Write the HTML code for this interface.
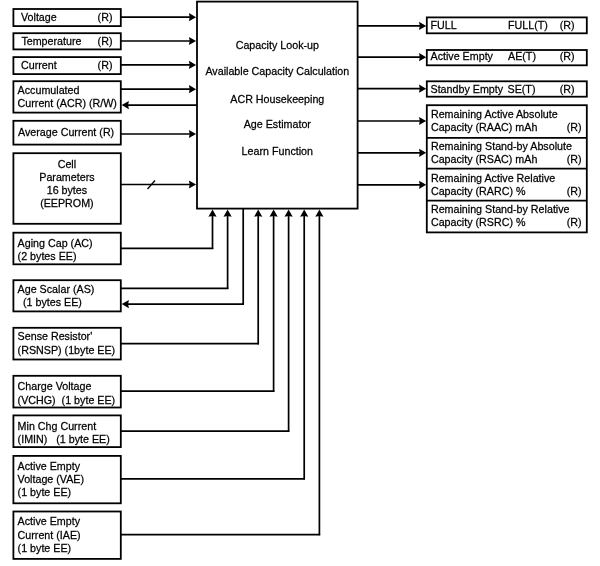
<!DOCTYPE html>
<html><head><meta charset="utf-8"><style>
html,body{margin:0;padding:0;background:#fff;width:600px;height:566px;overflow:hidden}
svg{display:block;will-change:transform}
text{font-family:"Liberation Sans",sans-serif;font-size:11.4px;fill:#000;stroke:#000;stroke-width:0.25px}
</style></head><body>
<svg width="600" height="566" viewBox="0 0 600 566">
<rect x="0" y="0" width="600" height="566" fill="#fff"/>
<rect x="13.4" y="9.0" width="107.4" height="17.1" fill="none" stroke="#000" stroke-width="1.8"/>
<rect x="13.4" y="33.2" width="107.4" height="16.2" fill="none" stroke="#000" stroke-width="1.8"/>
<rect x="13.4" y="57.1" width="107.4" height="17.0" fill="none" stroke="#000" stroke-width="1.8"/>
<rect x="13.4" y="81.2" width="107.4" height="31.4" fill="none" stroke="#000" stroke-width="1.8"/>
<rect x="13.4" y="120.8" width="107.4" height="23.8" fill="none" stroke="#000" stroke-width="1.8"/>
<rect x="13.4" y="153.2" width="107.4" height="70.6" fill="none" stroke="#000" stroke-width="1.8"/>
<rect x="13.4" y="232.7" width="107.4" height="31.6" fill="none" stroke="#000" stroke-width="1.8"/>
<rect x="13.4" y="280.2" width="107.4" height="31.2" fill="none" stroke="#000" stroke-width="1.8"/>
<rect x="13.4" y="327.8" width="107.4" height="31.7" fill="none" stroke="#000" stroke-width="1.8"/>
<rect x="13.4" y="375.8" width="107.4" height="31.7" fill="none" stroke="#000" stroke-width="1.8"/>
<rect x="13.4" y="415.4" width="107.4" height="31.7" fill="none" stroke="#000" stroke-width="1.8"/>
<rect x="13.4" y="455.9" width="107.4" height="47.4" fill="none" stroke="#000" stroke-width="1.8"/>
<rect x="13.4" y="511.5" width="107.4" height="47.4" fill="none" stroke="#000" stroke-width="1.8"/>
<rect x="197.0" y="1.6" width="160.6" height="207.0" fill="none" stroke="#000" stroke-width="1.8"/>
<line x1="120.8" y1="17.2" x2="192.0" y2="17.2" stroke="#000" stroke-width="1.7"/>
<path d="M196.1,17.2 L188.9,13.1 L189.70000000000002,17.2 L188.9,21.299999999999997 Z" fill="#000"/>
<line x1="120.8" y1="41.0" x2="192.0" y2="41.0" stroke="#000" stroke-width="1.7"/>
<path d="M196.1,41.0 L188.9,36.9 L189.70000000000002,41.0 L188.9,45.1 Z" fill="#000"/>
<line x1="120.8" y1="64.9" x2="192.0" y2="64.9" stroke="#000" stroke-width="1.7"/>
<path d="M196.1,64.9 L188.9,60.800000000000004 L189.70000000000002,64.9 L188.9,69.0 Z" fill="#000"/>
<line x1="120.8" y1="89.2" x2="192.0" y2="89.2" stroke="#000" stroke-width="1.7"/>
<path d="M196.1,89.2 L188.9,85.10000000000001 L189.70000000000002,89.2 L188.9,93.3 Z" fill="#000"/>
<line x1="120.8" y1="134.0" x2="192.0" y2="134.0" stroke="#000" stroke-width="1.7"/>
<path d="M196.1,134.0 L188.9,129.9 L189.70000000000002,134.0 L188.9,138.1 Z" fill="#000"/>
<line x1="120.8" y1="184.5" x2="192.0" y2="184.5" stroke="#000" stroke-width="1.7"/>
<path d="M196.1,184.5 L188.9,180.4 L189.70000000000002,184.5 L188.9,188.6 Z" fill="#000"/>
<line x1="125.8" y1="105.1" x2="197.0" y2="105.1" stroke="#000" stroke-width="1.7"/>
<path d="M121.7,105.1 L128.9,101.0 L128.1,105.1 L128.9,109.19999999999999 Z" fill="#000"/>
<line x1="147.5" y1="189" x2="155" y2="180.5" stroke="#000" stroke-width="1.3"/>
<line x1="212.5" y1="213.6" x2="212.5" y2="249.05" stroke="#000" stroke-width="1.7"/>
<line x1="120.8" y1="248.3" x2="213.25" y2="248.3" stroke="#000" stroke-width="1.7"/>
<path d="M212.5,209.5 L208.4,216.7 L212.5,215.89999999999998 L216.6,216.7 Z" fill="#000"/>
<line x1="227.6" y1="213.6" x2="227.6" y2="289.05" stroke="#000" stroke-width="1.7"/>
<line x1="120.8" y1="288.3" x2="228.35" y2="288.3" stroke="#000" stroke-width="1.7"/>
<path d="M227.6,209.5 L223.5,216.7 L227.6,215.89999999999998 L231.7,216.7 Z" fill="#000"/>
<line x1="243.2" y1="208.6" x2="243.2" y2="304.85" stroke="#000" stroke-width="1.7"/>
<line x1="125.8" y1="304.1" x2="243.95" y2="304.1" stroke="#000" stroke-width="1.7"/>
<path d="M121.7,304.1 L128.9,300.0 L128.1,304.1 L128.9,308.20000000000005 Z" fill="#000"/>
<line x1="258.2" y1="213.6" x2="258.2" y2="344.45" stroke="#000" stroke-width="1.7"/>
<line x1="120.8" y1="343.7" x2="258.95" y2="343.7" stroke="#000" stroke-width="1.7"/>
<path d="M258.2,209.5 L254.1,216.7 L258.2,215.89999999999998 L262.3,216.7 Z" fill="#000"/>
<line x1="273.6" y1="213.6" x2="273.6" y2="391.95" stroke="#000" stroke-width="1.7"/>
<line x1="120.8" y1="391.2" x2="274.35" y2="391.2" stroke="#000" stroke-width="1.7"/>
<path d="M273.6,209.5 L269.5,216.7 L273.6,215.89999999999998 L277.70000000000005,216.7 Z" fill="#000"/>
<line x1="288.6" y1="213.6" x2="288.6" y2="431.85" stroke="#000" stroke-width="1.7"/>
<line x1="120.8" y1="431.1" x2="289.35" y2="431.1" stroke="#000" stroke-width="1.7"/>
<path d="M288.6,209.5 L284.5,216.7 L288.6,215.89999999999998 L292.70000000000005,216.7 Z" fill="#000"/>
<line x1="304.2" y1="213.6" x2="304.2" y2="479.55" stroke="#000" stroke-width="1.7"/>
<line x1="120.8" y1="478.8" x2="304.95" y2="478.8" stroke="#000" stroke-width="1.7"/>
<path d="M304.2,209.5 L300.09999999999997,216.7 L304.2,215.89999999999998 L308.3,216.7 Z" fill="#000"/>
<line x1="319.4" y1="213.6" x2="319.4" y2="535.35" stroke="#000" stroke-width="1.7"/>
<line x1="120.8" y1="534.6" x2="320.15" y2="534.6" stroke="#000" stroke-width="1.7"/>
<path d="M319.4,209.5 L315.29999999999995,216.7 L319.4,215.89999999999998 L323.5,216.7 Z" fill="#000"/>
<rect x="426.8" y="17.4" width="160.0" height="15.9" fill="none" stroke="#000" stroke-width="1.8"/>
<rect x="426.8" y="50.0" width="160.0" height="15.3" fill="none" stroke="#000" stroke-width="1.8"/>
<rect x="426.8" y="81.3" width="160.0" height="15.4" fill="none" stroke="#000" stroke-width="1.8"/>
<rect x="426.8" y="105.2" width="160.0" height="127.2" fill="none" stroke="#000" stroke-width="1.8"/>
<line x1="426.8" y1="137.9" x2="586.8" y2="137.9" stroke="#000" stroke-width="1.8"/>
<line x1="426.8" y1="168.7" x2="586.8" y2="168.7" stroke="#000" stroke-width="1.8"/>
<line x1="426.8" y1="200.6" x2="586.8" y2="200.6" stroke="#000" stroke-width="1.8"/>
<line x1="357.6" y1="25.9" x2="421.8" y2="25.9" stroke="#000" stroke-width="1.7"/>
<path d="M426.2,25.9 L419.0,21.799999999999997 L419.8,25.9 L419.0,30.0 Z" fill="#000"/>
<line x1="357.6" y1="57.2" x2="421.8" y2="57.2" stroke="#000" stroke-width="1.7"/>
<path d="M426.2,57.2 L419.0,53.1 L419.8,57.2 L419.0,61.300000000000004 Z" fill="#000"/>
<line x1="357.6" y1="88.7" x2="421.8" y2="88.7" stroke="#000" stroke-width="1.7"/>
<path d="M426.2,88.7 L419.0,84.60000000000001 L419.8,88.7 L419.0,92.8 Z" fill="#000"/>
<line x1="357.6" y1="121.0" x2="421.8" y2="121.0" stroke="#000" stroke-width="1.7"/>
<path d="M426.2,121.0 L419.0,116.9 L419.8,121.0 L419.0,125.1 Z" fill="#000"/>
<line x1="357.6" y1="152.8" x2="421.8" y2="152.8" stroke="#000" stroke-width="1.7"/>
<path d="M426.2,152.8 L419.0,148.70000000000002 L419.8,152.8 L419.0,156.9 Z" fill="#000"/>
<line x1="357.6" y1="184.8" x2="421.8" y2="184.8" stroke="#000" stroke-width="1.7"/>
<path d="M426.2,184.8 L419.0,180.70000000000002 L419.8,184.8 L419.0,188.9 Z" fill="#000"/>
<text transform="translate(21 20.7) scale(0.9407 1)" xml:space="preserve">Voltage</text>
<text transform="translate(97.6 20.7) scale(0.9407 1)" xml:space="preserve">(R)</text>
<text transform="translate(21.4 44.9) scale(0.9407 1)" xml:space="preserve">Temperature</text>
<text transform="translate(97.6 44.9) scale(0.9407 1)" xml:space="preserve">(R)</text>
<text transform="translate(21 68.9) scale(0.9407 1)" xml:space="preserve">Current</text>
<text transform="translate(97.6 68.9) scale(0.9407 1)" xml:space="preserve">(R)</text>
<text transform="translate(17.6 93.6) scale(0.9407 1)" xml:space="preserve">Accumulated</text>
<text transform="translate(17.6 107) scale(0.9407 1)" xml:space="preserve">Current (ACR) (R/W)</text>
<text transform="translate(18 136.4) scale(0.9407 1)" xml:space="preserve">Average Current (R)</text>
<text transform="translate(66.9 167.5) scale(0.9407 1)" text-anchor="middle" xml:space="preserve">Cell</text>
<text transform="translate(66.9 180.8) scale(0.9407 1)" text-anchor="middle" xml:space="preserve">Parameters</text>
<text transform="translate(66.9 193.8) scale(0.9407 1)" text-anchor="middle" xml:space="preserve">16 bytes</text>
<text transform="translate(66.9 207.4) scale(0.9407 1)" text-anchor="middle" xml:space="preserve">(EEPROM)</text>
<text transform="translate(17.6 247) scale(0.9407 1)" xml:space="preserve">Aging Cap (AC)</text>
<text transform="translate(17.6 260) scale(0.9407 1)" xml:space="preserve">(2 bytes EE)</text>
<text transform="translate(17.6 293) scale(0.9407 1)" xml:space="preserve">Age Scalar (AS)</text>
<text transform="translate(23 306) scale(0.9407 1)" xml:space="preserve">(1 bytes EE)</text>
<text transform="translate(17.6 340.4) scale(0.9407 1)" xml:space="preserve">Sense Resistor'</text>
<text transform="translate(17.6 354) scale(0.9407 1)" xml:space="preserve">(RSNSP) (1byte EE)</text>
<text transform="translate(17.6 390) scale(0.9407 1)" xml:space="preserve">Charge Voltage</text>
<text transform="translate(17.6 403.6) scale(0.9407 1)" xml:space="preserve">(VCHG)  (1 byte EE)</text>
<text transform="translate(17.6 430) scale(0.9407 1)" xml:space="preserve">Min Chg Current</text>
<text transform="translate(17.6 442.5) scale(0.9407 1)" xml:space="preserve">(IMIN)   (1 byte EE)</text>
<text transform="translate(17.6 470.3) scale(0.9407 1)" xml:space="preserve">Active Empty</text>
<text transform="translate(17.6 483) scale(0.9407 1)" xml:space="preserve">Voltage (VAE)</text>
<text transform="translate(17.6 495.6) scale(0.9407 1)" xml:space="preserve">(1 byte EE)</text>
<text transform="translate(17.6 525.4) scale(0.9407 1)" xml:space="preserve">Active Empty</text>
<text transform="translate(17.6 538.6) scale(0.9407 1)" xml:space="preserve">Current (IAE)</text>
<text transform="translate(17.6 551.6) scale(0.9407 1)" xml:space="preserve">(1 byte EE)</text>
<text transform="translate(277.3 48.9) scale(0.9407 1)" text-anchor="middle" xml:space="preserve">Capacity Look-up</text>
<text transform="translate(277.3 75.4) scale(0.9407 1)" text-anchor="middle" xml:space="preserve">Available Capacity Calculation</text>
<text transform="translate(277.3 102.7) scale(0.9407 1)" text-anchor="middle" xml:space="preserve">ACR Housekeeping</text>
<text transform="translate(277.3 128.1) scale(0.9407 1)" text-anchor="middle" xml:space="preserve">Age Estimator</text>
<text transform="translate(277.3 154.6) scale(0.9407 1)" text-anchor="middle" xml:space="preserve">Learn Function</text>
<text transform="translate(430.5 28.7) scale(0.9407 1)" xml:space="preserve">FULL</text>
<text transform="translate(508 28.7) scale(0.9407 1)" xml:space="preserve">FULL(T)</text>
<text transform="translate(559.7 28.7) scale(0.9407 1)" xml:space="preserve">(R)</text>
<text transform="translate(430.5 60.3) scale(0.9407 1)" xml:space="preserve">Active Empty</text>
<text transform="translate(508 60.3) scale(0.9407 1)" xml:space="preserve">AE(T)</text>
<text transform="translate(559.7 60.3) scale(0.9407 1)" xml:space="preserve">(R)</text>
<text transform="translate(430.5 92.5) scale(0.9407 1)" xml:space="preserve">Standby Empty</text>
<text transform="translate(507.5 92.5) scale(0.9407 1)" xml:space="preserve">SE(T)</text>
<text transform="translate(559.7 92.5) scale(0.9407 1)" xml:space="preserve">(R)</text>
<text transform="translate(430.9 118) scale(0.9407 1)" xml:space="preserve">Remaining Active Absolute</text>
<text transform="translate(430.9 130.8) scale(0.9407 1)" xml:space="preserve">Capacity (RAAC) mAh</text>
<text transform="translate(566.8 130.8) scale(0.9407 1)" xml:space="preserve">(R)</text>
<text transform="translate(430.9 150) scale(0.9407 1)" xml:space="preserve">Remaining Stand-by Absolute</text>
<text transform="translate(430.9 162.8) scale(0.9407 1)" xml:space="preserve">Capacity (RSAC) mAh</text>
<text transform="translate(566.8 162.8) scale(0.9407 1)" xml:space="preserve">(R)</text>
<text transform="translate(430.9 181.9) scale(0.9407 1)" xml:space="preserve">Remaining Active Relative</text>
<text transform="translate(430.9 194.70000000000002) scale(0.9407 1)" xml:space="preserve">Capacity (RARC) %</text>
<text transform="translate(566.8 194.70000000000002) scale(0.9407 1)" xml:space="preserve">(R)</text>
<text transform="translate(430.9 213.4) scale(0.9407 1)" xml:space="preserve">Remaining Stand-by Relative</text>
<text transform="translate(430.9 226.20000000000002) scale(0.9407 1)" xml:space="preserve">Capacity (RSRC) %</text>
<text transform="translate(566.8 226.20000000000002) scale(0.9407 1)" xml:space="preserve">(R)</text>
</svg>
</body></html>
